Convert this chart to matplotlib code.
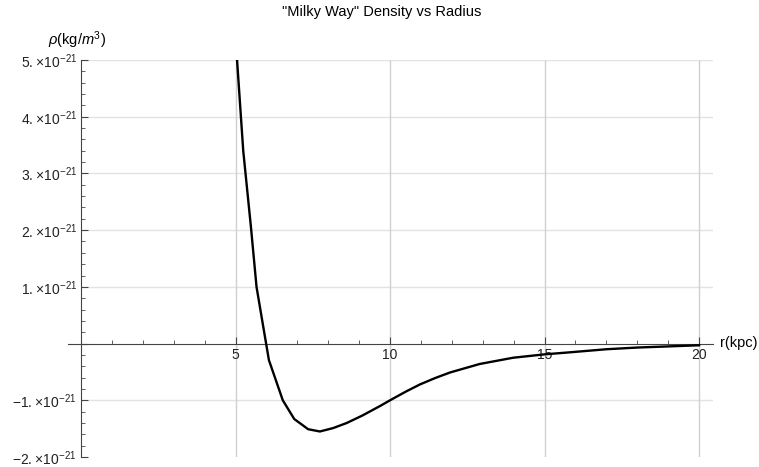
#"Milky Way" density vs radius, Mathematica-style axes
import numpy as np
import matplotlib.pyplot as plt

plt.rcParams['font.family'] = ['Liberation Sans', 'DejaVu Sans']
plt.rcParams['mathtext.fontset'] = 'custom'
plt.rcParams['mathtext.rm'] = 'Liberation Sans'
plt.rcParams['mathtext.it'] = 'Liberation Sans:italic'

#Data (r in kpc, rho in units of 1e-21 kg/m^3)
r_kpc = [5.05, 5.25, 5.5, 5.68, 6.08, 6.53, 6.9, 7.35, 7.73, 8.16, 8.6, 9.1,
         9.68, 10.0, 10.5, 10.97, 11.45, 11.94, 12.9, 13.98, 15.0, 15.8, 17.0, 18.0, 19.0, 20.0]
rho = [5.0, 3.4, 2.05, 1.0, -0.29, -1.0, -1.33, -1.51, -1.55, -1.49, -1.40, -1.27,
       -1.10, -1.0, -0.85, -0.72, -0.61, -0.51, -0.36, -0.25, -0.19, -0.155, -0.10, -0.07, -0.05, -0.03]
scale = 1e-21

x_major = [5, 10, 15, 20]
x_minor = list(range(1, 21))
y_major = [-2, -1, 0, 1, 2, 3, 4, 5]
y_labels = [r'$-2.\!\times\!10^{-21}$', r'$-1.\!\times\!10^{-21}$', '',
            r'$1.\!\times\!10^{-21}$', r'$2.\!\times\!10^{-21}$', r'$3.\!\times\!10^{-21}$',
            r'$4.\!\times\!10^{-21}$', r'$5.\!\times\!10^{-21}$']
y_grid = [-1, 1, 2, 3, 4, 5]

fig = plt.figure(figsize=(7.59, 4.67), dpi=100)
ax = fig.add_axes([68/759, 1-457/467, (713-68)/759, (457-60)/467])

xmin, xmax = -0.42, 20.45
ax.set_xlim(xmin, xmax)
ax.set_ylim(-2*scale, 5*scale)

#grid lines
ax.hlines([g*scale for g in y_grid], 0, xmax, colors='#e2e2e2', lw=1.0, zorder=0)
ax.vlines(x_major, -2*scale, 5*scale, colors='#d0d0d0', lw=1.0, zorder=0)

ax.plot(r_kpc, [v*scale for v in rho], color='black', lw=1.7, zorder=3)

for s in ['top', 'right']:
    ax.spines[s].set_visible(False)
ax.spines['bottom'].set_position(('data', 0))
ax.spines['left'].set_position(('data', 0))
for s in ['bottom', 'left']:
    ax.spines[s].set_color('#444444')
    ax.spines[s].set_linewidth(0.8)
ax.spines['left'].set_bounds(-2*scale, 5*scale)

ax.set_xticks(x_major, [str(v) for v in x_major])
ax.set_xticks(x_minor, minor=True)
ax.set_yticks([v*scale for v in y_major], y_labels)
ax.set_yticks([v*scale for v in np.arange(-2, 5.01, 0.2)], minor=True)

ax.tick_params(which='both', direction='in', color='#444444', labelsize=10, labelcolor='#222222')
ax.tick_params(which='major', length=5, width=0.8)
ax.tick_params(which='minor', length=3, width=0.6)
ax.tick_params(axis='x', pad=3)
ax.tick_params(axis='y', pad=3)

fig.text(382/759, 1-12/467, '"Milky Way" Density vs Radius', ha='center', va='center', fontsize=10.5)
fig.text(77/759, 1-40/467, r'$\rho$(kg/$m^3$)', ha='center', va='center', fontsize=10.5)
fig.text(720/759, 1-343/467, 'r(kpc)', ha='left', va='center', fontsize=10.5)

fig.savefig('out.png', dpi=100)
